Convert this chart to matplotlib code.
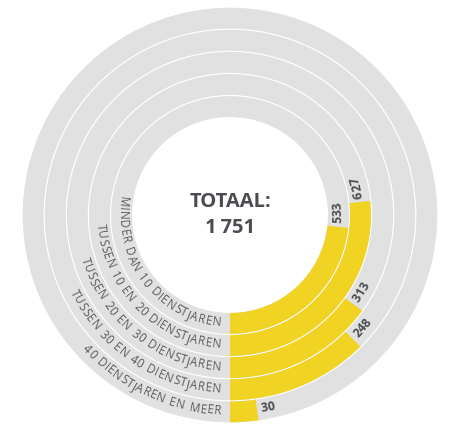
import matplotlib
matplotlib.use("Agg")
import matplotlib.pyplot as plt
from matplotlib.patches import Wedge
from matplotlib.font_manager import FontProperties, findfont, get_font
import numpy as np

# data
categories = [
    "MINDER DAN 10 DIENSTJAREN",
    "TUSSEN 10 EN 20 DIENSTJAREN",
    "TUSSEN 20 EN 30 DIENSTJAREN",
    "TUSSEN 30 EN 40 DIENSTJAREN",
    "40 DIENSTJAREN EN MEER",
]
values = [533, 627, 313, 248, 30]
total_title = "TOTAAL:"
total_value = "1\u2009751"

# layout (pixels, y up)
W, H = 451, 426
CX, CY = 230, 211
R0 = 98
BAND = 22.1
GAP = 1.2

GRAY = "#e1e1e1"
YELLOW = "#f1d324"
TXT = "#4a4c50"
LBL = "#58595d"

MAX_DEG = 95.7


def angle_of(v):
    # power scale used by the original chart (start at 6 o'clock, counterclockwise)
    return MAX_DEG * (v / max(values)) ** 0.82


fig = plt.figure(figsize=(W / 100, H / 100), dpi=100)
ax = fig.add_axes([0, 0, 1, 1])
ax.set_xlim(0, W)
ax.set_ylim(0, H)
ax.axis("off")

fp_lbl = FontProperties(family="Open Sans", size=8.4)
fp_val = FontProperties(family="Open Sans", weight="bold", size=8.8)
fp_tot = FontProperties(family=["Open Sans", "DejaVu Sans"], weight="bold", size=14.5)


def char_offsets(s, fp, spacing=0.0, space_extra=0.0):
    # centre of each char along the baseline (glyph advances, px), plus total length
    font = get_font(findfont(fp))
    font.set_size(fp.get_size_in_points(), 100)
    advs = [font.load_char(ord(ch)).linearHoriAdvance / 65536
            + (space_extra if ch == " " else 0.0) for ch in s]
    mids, pos = [], 0.0
    for a in advs:
        mids.append(pos + a / 2)
        pos += a + spacing
    return mids, pos - spacing


def arc_text(s, r, theta, fp, color, anchor="end", spacing=0.0, space_extra=0.0):
    # text along the ring, running counterclockwise, tops toward the centre
    mids, total = char_offsets(s, fp, spacing, space_extra)
    for ch, m in zip(s, mids):
        if ch == " ":
            continue
        if anchor == "end":
            th = theta - np.degrees((total - m) / r)
        else:
            th = theta + np.degrees(m / r)
        t = np.radians(th)
        ax.text(CX + r * np.cos(t), CY + r * np.sin(t), ch,
                rotation=th + 90, rotation_mode="anchor",
                ha="center", va="center", fontproperties=fp, color=color)


for i, (cat, v) in enumerate(zip(categories, values)):
    r_in = R0 + i * BAND
    r_out = r_in + BAND - GAP
    r_mid = (r_in + r_out) / 2
    ax.add_patch(Wedge((CX, CY), r_out, 0, 360, width=BAND - GAP,
                       facecolor=GRAY, edgecolor="none"))
    span = angle_of(v)
    ax.add_patch(Wedge((CX, CY), r_out, -90, -90 + span, width=BAND - GAP,
                       facecolor=YELLOW, edgecolor="none"))
    # category label ends just left of the 6 o'clock line
    arc_text(cat, r_mid - 0.5, -90 - np.degrees(9 / r_mid), fp_lbl, LBL,
             spacing=0.55, space_extra=0.8)
    # value just past the bar end
    arc_text(str(v), r_mid - 0.5, -90 + span + np.degrees(4 / r_mid), fp_val, TXT,
             anchor="start")

ax.text(CX, CY + 13, total_title, ha="center", va="center",
        fontproperties=fp_tot, color=TXT)
ax.text(CX, CY - 13, total_value, ha="center", va="center",
        fontproperties=fp_tot, color=TXT)

fig.savefig("out.png", dpi=100, facecolor="white")
